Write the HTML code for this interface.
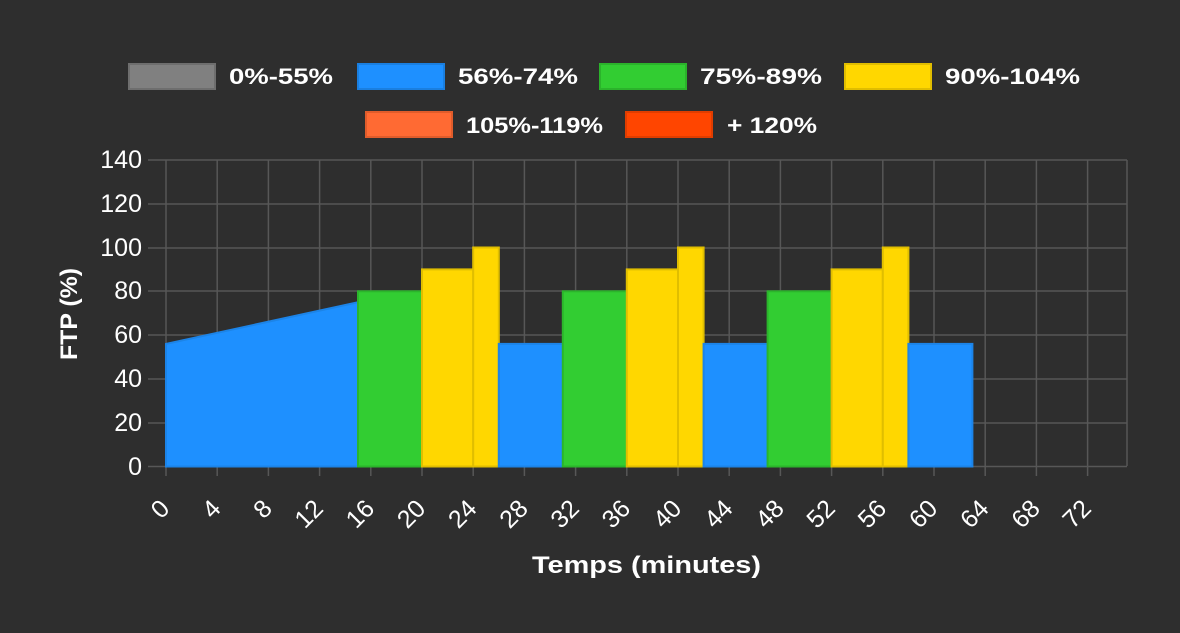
<!DOCTYPE html>
<html><head><meta charset="utf-8"><style>
html,body{margin:0;padding:0;background:#2e2e2e;}
svg{display:block;font-family:"Liberation Sans",sans-serif;}
</style></head><body>
<svg width="1180" height="633" viewBox="0 0 1180 633">
<rect width="1180" height="633" fill="#2e2e2e"/>
<!-- legend -->
<g font-weight="bold" font-size="22" fill="#fff">
<rect x="129" y="64" width="86" height="25" fill="#808080" stroke="#6e6e6e" stroke-width="2"/>
<text x="229" y="84" textLength="104" lengthAdjust="spacingAndGlyphs">0%-55%</text>
<rect x="358" y="64" width="86" height="25" fill="#1e90ff" stroke="#1a7fe0" stroke-width="2"/>
<text x="458" y="84" textLength="120" lengthAdjust="spacingAndGlyphs">56%-74%</text>
<rect x="600" y="64" width="86" height="25" fill="#32cd32" stroke="#2bb32b" stroke-width="2"/>
<text x="700" y="84" textLength="122" lengthAdjust="spacingAndGlyphs">75%-89%</text>
<rect x="845" y="64" width="86" height="25" fill="#ffd700" stroke="#e0bd00" stroke-width="2"/>
<text x="945" y="84" textLength="135" lengthAdjust="spacingAndGlyphs">90%-104%</text>
<rect x="366" y="112" width="86" height="25" fill="#ff6a33" stroke="#e05c2b" stroke-width="2"/>
<text x="466" y="133" textLength="137" lengthAdjust="spacingAndGlyphs">105%-119%</text>
<rect x="626" y="112" width="86" height="25" fill="#ff4500" stroke="#e03d00" stroke-width="2"/>
<text x="727" y="133" textLength="90" lengthAdjust="spacingAndGlyphs">+ 120%</text>
</g>
<!-- grid -->
<g stroke="#575757" stroke-width="1.5">
<line x1="148" y1="160" x2="1127" y2="160"/>
<line x1="148" y1="204" x2="1127" y2="204"/>
<line x1="148" y1="248" x2="1127" y2="248"/>
<line x1="148" y1="291" x2="1127" y2="291"/>
<line x1="148" y1="335" x2="1127" y2="335"/>
<line x1="148" y1="379" x2="1127" y2="379"/>
<line x1="148" y1="423" x2="1127" y2="423"/>
<line x1="148" y1="466.5" x2="1127" y2="466.5"/>
<line x1="166" y1="160" x2="166" y2="476"/>
<line x1="217.2" y1="160" x2="217.2" y2="476"/>
<line x1="268.4" y1="160" x2="268.4" y2="476"/>
<line x1="319.6" y1="160" x2="319.6" y2="476"/>
<line x1="370.8" y1="160" x2="370.8" y2="476"/>
<line x1="422" y1="160" x2="422" y2="476"/>
<line x1="473.2" y1="160" x2="473.2" y2="476"/>
<line x1="524.4" y1="160" x2="524.4" y2="476"/>
<line x1="575.6" y1="160" x2="575.6" y2="476"/>
<line x1="626.8" y1="160" x2="626.8" y2="476"/>
<line x1="678" y1="160" x2="678" y2="476"/>
<line x1="729.2" y1="160" x2="729.2" y2="476"/>
<line x1="780.4" y1="160" x2="780.4" y2="476"/>
<line x1="831.6" y1="160" x2="831.6" y2="476"/>
<line x1="882.8" y1="160" x2="882.8" y2="476"/>
<line x1="934" y1="160" x2="934" y2="476"/>
<line x1="985.2" y1="160" x2="985.2" y2="476"/>
<line x1="1036.4" y1="160" x2="1036.4" y2="476"/>
<line x1="1087.6" y1="160" x2="1087.6" y2="476"/>
<line x1="1127" y1="160" x2="1127" y2="466"/>
</g>
<!-- series -->
<g stroke-width="2">
<polygon points="166,466.5 166,343.9 358,302.3 358,466.5" fill="#1e90ff" stroke="#1c84e8"/>
<rect x="358" y="291.3" width="64" height="175.2" fill="#32cd32" stroke="#2bb52b"/>
<rect x="422" y="269.4" width="51.2" height="197.1" fill="#ffd700" stroke="#e0be00"/>
<rect x="473.2" y="247.5" width="25.6" height="219" fill="#ffd700" stroke="#e0be00"/>
<rect x="498.8" y="343.9" width="64" height="122.6" fill="#1e90ff" stroke="#1c84e8"/>
<rect x="562.8" y="291.3" width="64" height="175.2" fill="#32cd32" stroke="#2bb52b"/>
<rect x="626.8" y="269.4" width="51.2" height="197.1" fill="#ffd700" stroke="#e0be00"/>
<rect x="678" y="247.5" width="25.6" height="219" fill="#ffd700" stroke="#e0be00"/>
<rect x="703.6" y="343.9" width="64" height="122.6" fill="#1e90ff" stroke="#1c84e8"/>
<rect x="767.6" y="291.3" width="64" height="175.2" fill="#32cd32" stroke="#2bb52b"/>
<rect x="831.6" y="269.4" width="51.2" height="197.1" fill="#ffd700" stroke="#e0be00"/>
<rect x="882.8" y="247.5" width="25.6" height="219" fill="#ffd700" stroke="#e0be00"/>
<rect x="908.4" y="343.9" width="64" height="122.6" fill="#1e90ff" stroke="#1c84e8"/>
</g>
<!-- y labels -->
<g fill="#fff" font-size="25" text-anchor="end">
<text x="142" y="168">140</text>
<text x="142" y="212">120</text>
<text x="142" y="256">100</text>
<text x="142" y="299">80</text>
<text x="142" y="343">60</text>
<text x="142" y="387">40</text>
<text x="142" y="431">20</text>
<text x="142" y="475">0</text>
</g>
<!-- x labels -->
<g fill="#fff" font-size="25" text-anchor="end">
<text transform="translate(171,510) rotate(-45)">0</text>
<text transform="translate(222.2,510) rotate(-45)">4</text>
<text transform="translate(273.4,510) rotate(-45)">8</text>
<text transform="translate(324.6,510) rotate(-45)">12</text>
<text transform="translate(375.8,510) rotate(-45)">16</text>
<text transform="translate(427,510) rotate(-45)">20</text>
<text transform="translate(478.2,510) rotate(-45)">24</text>
<text transform="translate(529.4,510) rotate(-45)">28</text>
<text transform="translate(580.6,510) rotate(-45)">32</text>
<text transform="translate(631.8,510) rotate(-45)">36</text>
<text transform="translate(683,510) rotate(-45)">40</text>
<text transform="translate(734.2,510) rotate(-45)">44</text>
<text transform="translate(785.4,510) rotate(-45)">48</text>
<text transform="translate(836.6,510) rotate(-45)">52</text>
<text transform="translate(887.8,510) rotate(-45)">56</text>
<text transform="translate(939,510) rotate(-45)">60</text>
<text transform="translate(990.2,510) rotate(-45)">64</text>
<text transform="translate(1041.4,510) rotate(-45)">68</text>
<text transform="translate(1092.6,510) rotate(-45)">72</text>
</g>
<text x="532" y="573" fill="#fff" font-size="24" font-weight="bold" textLength="229" lengthAdjust="spacingAndGlyphs">Temps (minutes)</text>
<text transform="translate(77,360) rotate(-90)" fill="#fff" font-size="24" font-weight="bold" textLength="92" lengthAdjust="spacingAndGlyphs">FTP (%)</text>
</svg>
</body></html>
